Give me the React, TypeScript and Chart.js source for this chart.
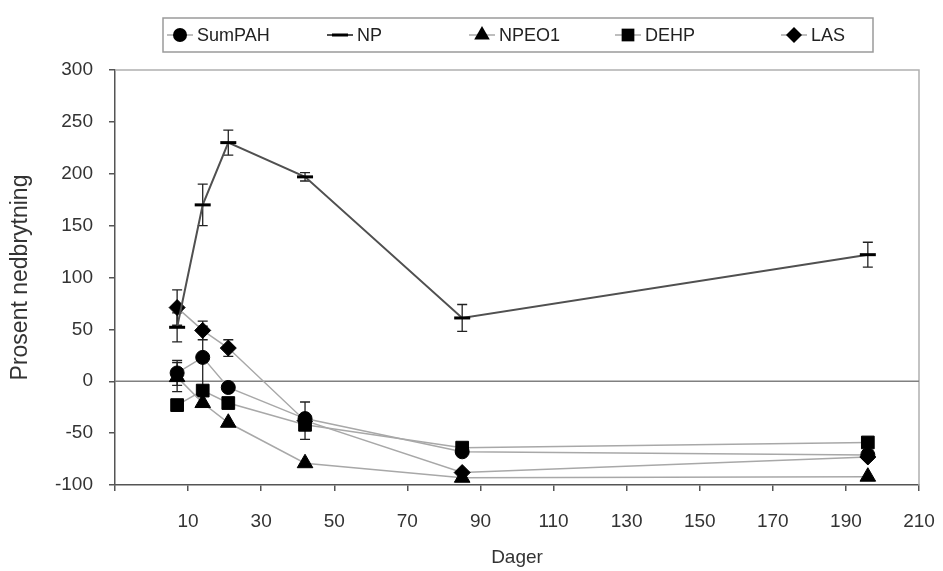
import React, { useEffect, useRef } from "react";
import { Chart, registerables } from "chart.js";
Chart.register(...registerables);

const days = [7, 14, 21, 42, 85, 196];
const sumPAH = [8, 23, -6, -36, -68, -71];
const np = [52, 170, 230, 197, 61, 122];
const npeo1 = [4, -21, -40, -79, -93, -92];
const dehp = [-23, -9, -21, -42, -64, -59];
const las = [71, 49, 32, -38, -88, -73];
const sumPAHErr = [12, 30, 0, 0, 0, 0];
const npErr = [14, 20, 12, 4, 13, 12];
const npeo1Err = [14, 0, 0, 0, 0, 0];
const lasErr = [17, 9, 8, 18, 0, 0];
const xTickValues = [10, 30, 50, 70, 90, 110, 130, 150, 170, 190, 210];
const yTickValues = [-100, -50, 0, 50, 100, 150, 200, 250, 300];
const seriesNames = ["SumPAH", "NP", "NPEO1", "DEHP", "LAS"];

const FONT = "'Liberation Sans', Arial, sans-serif";

const pts = (arr: number[]) => days.map((d, i) => ({ x: d, y: arr[i] }));

// legend layout (sample centres, px)
const LEGEND_BOX = { l: 163, r: 873, t: 18, b: 52 };
const LEGEND_CENTERS = [180, 340, 482, 628, 794];

const extrasPlugin = {
  id: "extras",
  beforeDatasetsDraw(chart: any) {
    const { ctx, chartArea, scales } = chart;
    const x = scales.x, y = scales.y;
    ctx.save();
    ctx.strokeStyle = "#b0b0b0";
    ctx.lineWidth = 1.5;
    ctx.beginPath();
    ctx.moveTo(chartArea.left, chartArea.top);
    ctx.lineTo(chartArea.right, chartArea.top);
    ctx.lineTo(chartArea.right, chartArea.bottom);
    ctx.stroke();
    const y0 = y.getPixelForValue(0);
    ctx.strokeStyle = "#808080";
    ctx.lineWidth = 1.5;
    ctx.beginPath();
    ctx.moveTo(chartArea.left, y0);
    ctx.lineTo(chartArea.right, y0);
    ctx.stroke();
    chart.data.datasets.forEach((ds: any) => {
      if (!ds.err) return;
      ctx.strokeStyle = "#222";
      ctx.lineWidth = 1.3;
      ds.data.forEach((p: any, i: number) => {
        const e = ds.err[i];
        if (!e) return;
        const px = x.getPixelForValue(p.x);
        const yt = y.getPixelForValue(p.y + e);
        const yb = y.getPixelForValue(p.y - e);
        ctx.beginPath();
        ctx.moveTo(px, yt);
        ctx.lineTo(px, yb);
        ctx.moveTo(px - 5, yt);
        ctx.lineTo(px + 5, yt);
        ctx.moveTo(px - 5, yb);
        ctx.lineTo(px + 5, yb);
        ctx.stroke();
      });
    });
    ctx.restore();
  },
  afterDraw(chart: any) {
    const { ctx } = chart;
    ctx.save();
    const { l, r: rr, t, b } = LEGEND_BOX;
    ctx.strokeStyle = "#9a9a9a";
    ctx.lineWidth = 1.5;
    ctx.strokeRect(l, t, rr - l, b - t);
    ctx.font = `18px ${FONT}`;
    ctx.textBaseline = "middle";
    const cy = (t + b) / 2;
    const half = 13;
    chart.data.datasets.forEach((ds: any, i: number) => {
      const cx = LEGEND_CENTERS[i];
      ctx.strokeStyle = ds.borderColor;
      ctx.lineWidth = ds.borderWidth;
      ctx.beginPath();
      ctx.moveTo(cx - half, cy);
      ctx.lineTo(cx + half, cy);
      ctx.stroke();
      ctx.fillStyle = "#000";
      ctx.strokeStyle = "#000";
      const r = ds.pointRadius;
      ctx.beginPath();
      if (ds.pointStyle === "circle") {
        ctx.arc(cx, cy, r, 0, Math.PI * 2);
        ctx.fill();
      } else if (ds.pointStyle === "line") {
        ctx.lineWidth = ds.pointBorderWidth;
        ctx.moveTo(cx - r, cy);
        ctx.lineTo(cx + r, cy);
        ctx.stroke();
      } else if (ds.pointStyle === "triangle") {
        ctx.moveTo(cx, cy - r);
        ctx.lineTo(cx + r * 0.866, cy + r * 0.5);
        ctx.lineTo(cx - r * 0.866, cy + r * 0.5);
        ctx.closePath();
        ctx.fill();
      } else if (ds.pointStyle === "rect") {
        const s = r * Math.SQRT1_2;
        ctx.rect(cx - s, cy - s, 2 * s, 2 * s);
        ctx.fill();
      } else if (ds.pointStyle === "rectRot") {
        ctx.moveTo(cx, cy - r);
        ctx.lineTo(cx + r, cy);
        ctx.lineTo(cx, cy + r);
        ctx.lineTo(cx - r, cy);
        ctx.closePath();
        ctx.fill();
      }
      ctx.fillStyle = "#222";
      ctx.fillText(seriesNames[i], cx + half + 4, cy + 1);
    });
    ctx.restore();
  },
};

export default function App() {
  const ref = useRef<HTMLCanvasElement>(null);
  useEffect(() => {
    if (!ref.current) return;
    const mk = (label: string, arr: number[], err: number[] | null, style: string, radius: number, lineColor: string, lw: number) => ({
      label,
      data: pts(arr),
      err,
      borderColor: lineColor,
      borderWidth: lw,
      pointStyle: style,
      pointRadius: radius,
      pointBackgroundColor: "#000",
      pointBorderColor: "#000",
      pointBorderWidth: style === "line" ? 3 : 1,
      showLine: true,
      tension: 0,
      fill: false,
    });
    const chart = new Chart(ref.current, {
      type: "line",
      data: {
        datasets: [
          mk(seriesNames[0], sumPAH, sumPAHErr, "circle", 7, "#a8a8a8", 1.5),
          mk(seriesNames[1], np, npErr, "line", 8, "#505050", 2),
          mk(seriesNames[2], npeo1, npeo1Err, "triangle", 9, "#a8a8a8", 1.5),
          mk(seriesNames[3], dehp, null, "rect", 9, "#a8a8a8", 1.5),
          mk(seriesNames[4], las, lasErr, "rectRot", 8, "#a8a8a8", 1.5),
        ] as any,
      },
      options: {
        animation: false,
        responsive: true,
        maintainAspectRatio: false,
        layout: { padding: { top: 70, right: 24, left: 0, bottom: 0 } },
        plugins: { legend: { display: false }, tooltip: { enabled: false } },
        scales: {
          x: {
            type: "linear",
            min: -10,
            max: 210,
            afterFit: (s: any) => { s.height = 86; s.paddingLeft = 0; s.paddingRight = 0; },
            afterBuildTicks: (s: any) => { s.ticks = [-10, ...xTickValues].map((v) => ({ value: v })); },
            ticks: {
              padding: 19,
              color: "#333",
              font: { family: FONT, size: 19 },
              maxRotation: 0,
              autoSkip: false,
              callback: (v: any) => (xTickValues.includes(v) ? String(v) : ""),
            },
            grid: { drawOnChartArea: false, drawTicks: true, tickLength: 6, color: "#555", lineWidth: 1.5 },
            border: { display: true, color: "#555", width: 1.5 },
            title: { display: true, text: "Dager", color: "#333", font: { family: FONT, size: 19 }, padding: { top: 0, bottom: 2 } },
          },
          y: {
            type: "linear",
            min: -100,
            max: 300,
            afterFit: (s: any) => { s.width = 115; s.paddingTop = 0; s.paddingBottom = 0; },
            afterBuildTicks: (s: any) => { s.ticks = yTickValues.map((v) => ({ value: v })); },
            ticks: { padding: 16, color: "#333", font: { family: FONT, size: 19 }, autoSkip: false },
            grid: { drawOnChartArea: false, drawTicks: true, tickLength: 6, color: "#555", lineWidth: 1.5 },
            border: { display: true, color: "#555", width: 1.5 },
            title: { display: true, text: "Prosent nedbrytning", color: "#333", font: { family: FONT, size: 23 }, padding: { top: 7, bottom: 0 } },
          },
        },
      },
      plugins: [extrasPlugin],
    } as any);
    return () => chart.destroy();
  }, []);
  return (
    <div style={{ position: "fixed", left: 0, top: 0, width: 943, height: 571, background: "#fff" }}>
      <canvas ref={ref} />
    </div>
  );
}
